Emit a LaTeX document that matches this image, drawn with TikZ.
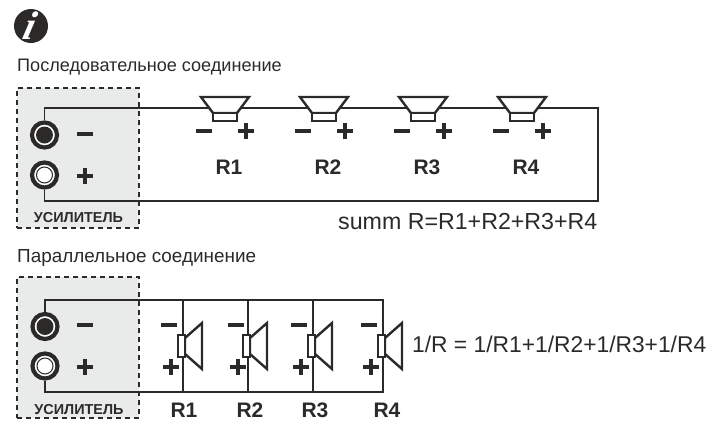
\documentclass[tikz,border=0pt]{standalone}
\usepackage{fontspec}
\setmainfont{Liberation Sans}
\newfontfamily\iconserif{Liberation Serif}
\definecolor{ink}{HTML}{2B2A29}
\definecolor{ampgrey}{HTML}{E9EAEA}
\tikzset{
  x=1pt,y=-1pt,
  wire/.style={draw=ink,line width=1.6pt,line join=miter},
  ampbox/.style={draw=ink,fill=ampgrey,line width=1.1pt,dash pattern=on 5pt off 4pt},
  speaker/.style={draw=ink,fill=white,line width=2.4pt,line join=miter},
  signbar/.style={draw=ink,line width=4pt},
  caption/.style={text=ink,anchor=west,inner sep=0pt},
  formula/.style={text=ink,anchor=west,inner sep=0pt},
  rlabel/.style={font=\bfseries\fontsize{21}{24}\selectfont,text=ink,inner sep=0pt},
  amplabel/.style={font=\bfseries\fontsize{14.4}{16}\selectfont,text=ink,inner sep=0pt},
  jackouter/.style={circle,draw=ink,line width=4.2pt,minimum size=25pt,inner sep=0pt,fill=white},
}
\newcommand{\minussign}[2]{\draw[signbar] (#1-8,#2) -- (#1+8,#2);}
\newcommand{\plussign}[2]{\draw[signbar] (#1-8,#2) -- (#1+8,#2);\draw[signbar] (#1,#2-8) -- (#1,#2+8);}
% horizontal speaker, centred on wire point x, y
\newcommand{\hspk}[2]{%
  \draw[speaker] (#1-24,#2-11) -- (#1+24,#2-11) -- (#1+12,#2+5) -- (#1-12,#2+5) -- cycle;
  \draw[speaker] (#1-12,#2+5) rectangle (#1+12,#2+13);
}
% vertical speaker, centred on wire point x, y
\newcommand{\vspk}[2]{%
  \draw[speaker] (#1+2,#2-7) -- (#1+19,#2-22) -- (#1+19,#2+24) -- (#1+2,#2+9) -- cycle;
  \draw[speaker] (#1-5,#2-10) rectangle (#1+2,#2+12);
}
\begin{document}
\begin{tikzpicture}
\useasboundingbox (0,0) rectangle (716,432);
% info icon
\node[circle,fill=ink,minimum size=34pt,inner sep=0pt] (icon) at (31,26) {};
\node[text=white,inner sep=0pt,xslant=0.25,font=\iconserif\bfseries\itshape\fontsize{40}{40}\selectfont] (iconi) at (31,26) {i};
% captions
\node[caption,font=\fontsize{18.1}{21}\selectfont] (capA) at (17,67) {Последовательное соединение};
\node[caption,font=\fontsize{18.9}{21}\selectfont] (capB) at (17,258) {Параллельное соединение};

%% series
\node[ampbox,draw,minimum width=122pt,minimum height=140pt,inner sep=0pt] (ampA) at (78,158) {};
\node[jackouter] (jA1) at (44.5,135) {};
\node[jackouter] (jA2) at (44.5,175) {};
\coordinate (tA) at (44.5,108);
\coordinate (bA) at (44.5,201);
\coordinate (trA) at (598,108);
\coordinate (brA) at (598,201);
\draw[wire] (jA1) -- (tA) -- (trA) -- (brA) -- (bA) -- (jA2);
\fill[ink] (jA1) circle (8.5pt);
\draw[draw=ink,line width=1pt,fill=white] (jA2) circle (8pt);
\minussign{85}{134}
\plussign{85}{176}
\node[amplabel] (ampAl) at (78.5,218) {УСИЛИТЕЛЬ};
\foreach \x/\n/\lx in {225/R1/229,324/R2/328,423/R3/427,522/R4/526}{
  \hspk{\x}{108}
  \minussign{\x-21}{131}
  \plussign{\x+21}{131}
  \node[rlabel] (lab\n) at (\lx,167) {\n};
}
\node[formula,font=\fontsize{23.2}{26}\selectfont] (fA) at (338,222) {summ R=R1+R2+R3+R4};

%% parallel
\node[ampbox,draw,minimum width=122pt,minimum height=141pt,inner sep=0pt] (ampB) at (78,347.5) {};
\node[jackouter] (jB1) at (45,326.5) {};
\node[jackouter] (jB2) at (45,366) {};
\coordinate (tB) at (45,300);
\coordinate (bB) at (45,392);
\coordinate (trB) at (383,300);
\coordinate (brB) at (383,392);
\draw[wire] (jB1) -- (tB) -- (trB) -- (brB) -- (bB) -- (jB2);
\fill[ink] (jB1) circle (8.5pt);
\draw[draw=ink,line width=1pt,fill=white] (jB2) circle (8pt);
\minussign{85}{325}
\plussign{85}{367}
\node[amplabel] (ampBl) at (79,410) {УСИЛИТЕЛЬ};
\foreach \x/\n/\lx/\mx in {183/R1/184/169,248/R2/250/236,313/R3/315/299,383/R4/387/369}{
  \coordinate (t\n) at (\x,300);
  \coordinate (b\n) at (\x,392);
  \draw[wire] (t\n) -- (b\n);
  \vspk{\x}{345}
  \minussign{\mx}{325}
  \plussign{\mx+2}{367}
  \node[rlabel] (plab\n) at (\lx,410) {\n};
}
\node[formula,font=\fontsize{22.8}{26}\selectfont] (fB) at (412,344) {1/R = 1/R1+1/R2+1/R3+1/R4};
\end{tikzpicture}
\end{document}
